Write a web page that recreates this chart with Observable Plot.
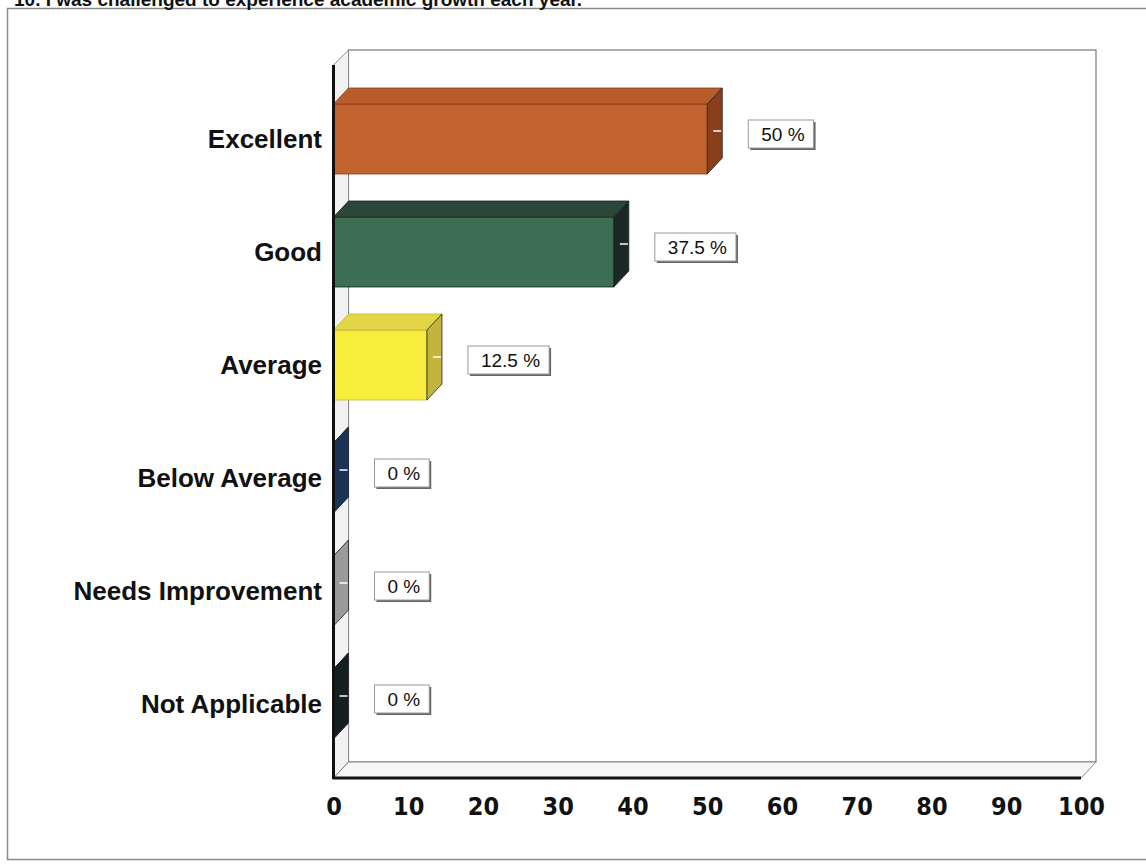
<!DOCTYPE html>
<html><head><meta charset="utf-8">
<script src="https://cdn.jsdelivr.net/npm/d3@7"></script>
<script src="https://cdn.jsdelivr.net/npm/@observablehq/plot@0.6"></script>
<style>
body{margin:0;background:#fff;}
#chart{position:relative;width:1146px;height:864px;overflow:hidden;}
#chart svg{position:absolute;left:0;top:0;}
</style>
</head><body><div id="chart"></div>
<script>
const title = "10. I was challenged to experience academic growth each year.";
const categories = ["Excellent", "Good", "Average", "Below Average", "Needs Improvement", "Not Applicable"];
const percentages = [50, 37.5, 12.5, 0, 0, 0];
const frontColors = ["#c2622f", "#3c6f52", "#f8ec3c", "#2b4b73", "#b6b6b6", "#1f2e30"];
const topColors = ["#b85c2c", "#2c463a", "#e2d646", "#3a5c86", "#c8c8c8", "#2c3c3e"];
const sideColors = ["#8a3e1b", "#1b2722", "#c2b43c", "#1a3354", "#9a9a9a", "#151f20"];
const xTicks = [0, 10, 20, 30, 40, 50, 60, 70, 80, 90, 100];

const data = categories.map((c, i) => ({
  category: c, value: percentages[i],
  front: frontColors[i], top: topColors[i], side: sideColors[i],
  label: `${percentages[i]} %`
}));

const DX = 15, DY = 16;
const NS = "http://www.w3.org/2000/svg";
function el(tag, attrs, parent) {
  const e = document.createElementNS(NS, tag);
  for (const k in attrs) e.setAttribute(k, attrs[k]);
  if (parent) parent.appendChild(e);
  return e;
}
function bwOf(y) { return typeof y.bandwidth === "function" ? y.bandwidth() : y.bandwidth; }

function backdrop(index, scales, values, dims) {
  const x = scales.x;
  const g = el("g", {});
  const ft = dims.marginTop - 15, fb = dims.height - dims.marginBottom + DY;
  const bt = ft - 15, bb = fb - DY;
  const x0 = x(0), x1 = x(100);
  // outer frame
  el("rect", {x: 7.5, y: 8.5, width: 1160, height: 851, fill: "none", stroke: "#8a8a8a", "stroke-width": 1.5}, g);
  // title (partly cut off at the top like the reference)
  const t = el("text", {x: 14, y: 6, "text-anchor": "start", "font-family": "Liberation Sans, Arial, sans-serif", "font-size": 19, "font-weight": "bold", fill: "#111"}, g);
  t.textContent = title;
  // back wall
  el("rect", {x: x0 + DX, y: bt, width: x1 - x0, height: bb - bt, fill: "#fff", stroke: "#777", "stroke-width": 1.2}, g);
  // left wall
  el("polygon", {points: `${x0},${ft} ${x0 + DX},${bt} ${x0 + DX},${bb} ${x0},${fb}`, fill: "#f1f1f1", stroke: "#888", "stroke-width": 1}, g);
  // floor
  el("polygon", {points: `${x0},${fb} ${x0 + DX},${bb} ${x1 + DX},${bb} ${x1},${fb}`, fill: "#f7f7f7", stroke: "#888", "stroke-width": 1}, g);
  return g;
}

function faces(index, scales, values, dims) {
  const x = scales.x, y = scales.y, bw = bwOf(y);
  const g = el("g", {});
  const x0 = x(0);
  for (const d of data) {
    const xe = x(d.value), yt = y(d.category), yb = yt + bw;
    el("polygon", {points: `${x0},${yt} ${x0 + DX},${yt - DY} ${xe + DX},${yt - DY} ${xe},${yt}`, fill: d.top, stroke: d.side, "stroke-width": 0.8}, g);
    el("polygon", {points: `${xe},${yt} ${xe + DX},${yt - DY} ${xe + DX},${yb - DY} ${xe},${yb}`, fill: d.side, stroke: "#222", "stroke-width": 0.8}, g);
    const cy = yt + bw / 2 - DY / 2;
    el("line", {x1: xe + 6, x2: xe + 14, y1: cy, y2: cy, stroke: "#fff", "stroke-width": 1.5}, g);
  }
  return g;
}

function frontAxes(index, scales, values, dims) {
  const x = scales.x;
  const g = el("g", {});
  const ft = dims.marginTop - 15, fb = dims.height - dims.marginBottom + DY;
  const x0 = x(0), x1 = x(100);
  el("line", {x1: x0, x2: x0, y1: ft, y2: fb + 1, stroke: "#111", "stroke-width": 3}, g);
  el("line", {x1: x0 - 1, x2: x1, y1: fb, y2: fb, stroke: "#111", "stroke-width": 3}, g);
  return g;
}

const ctx = document.createElement("canvas").getContext("2d");
const labelFont = "19px 'Liberation Sans', Arial, sans-serif";
ctx.font = labelFont;

function valueLabels(index, scales, values, dims) {
  const x = scales.x, y = scales.y, bw = bwOf(y);
  const g = el("g", {});
  for (const d of data) {
    const xe = x(d.value), cy = y(d.category) + bw / 2 - 5;
    const tw = ctx.measureText(d.label).width;
    const bx = xe + 41, by = cy - 14, w = tw + 22, h = 28;
    el("rect", {x: bx + 2, y: by + 2, width: w, height: h, fill: "#666"}, g);
    el("rect", {x: bx, y: by, width: w, height: h, fill: "#fff", stroke: "#999", "stroke-width": 1}, g);
    const t = el("text", {x: bx + 13, y: cy + 7, "text-anchor": "start", "font-family": "Liberation Sans, Arial, sans-serif", "font-size": 19, fill: "#111"}, g);
    t.textContent = d.label;
  }
  return g;
}

const chart = Plot.plot({
  width: 1146,
  height: 864,
  marginLeft: 333.5,
  marginRight: 65,
  marginTop: 80,
  marginBottom: 102,
  style: {background: "transparent", overflow: "hidden"},
  x: {domain: [0, 100], label: null},
  y: {domain: categories, paddingInner: 0.384, paddingOuter: 0.192, label: null},
  color: {type: "identity"},
  marks: [
    backdrop,
    Plot.barX(data, {x: "value", y: "category", fill: "front", stroke: "side", strokeWidth: 0.8}),
    faces,
    frontAxes,
    Plot.axisX({ticks: xTicks, tickSize: 0, tickPadding: 35, fontSize: 25, fontWeight: "bold",
      fontFamily: "'Liberation Sans Narrow', 'Arial Narrow', 'DejaVu Sans Condensed', sans-serif", fill: "#111", label: null}),
    Plot.axisY({tickSize: 0, tickPadding: 12, fontSize: 26, fontWeight: "bold",
      fontFamily: "'Liberation Sans', Arial, sans-serif", fill: "#111", label: null}),
    valueLabels
  ]
});
document.getElementById("chart").appendChild(chart);
</script>
</body></html>
